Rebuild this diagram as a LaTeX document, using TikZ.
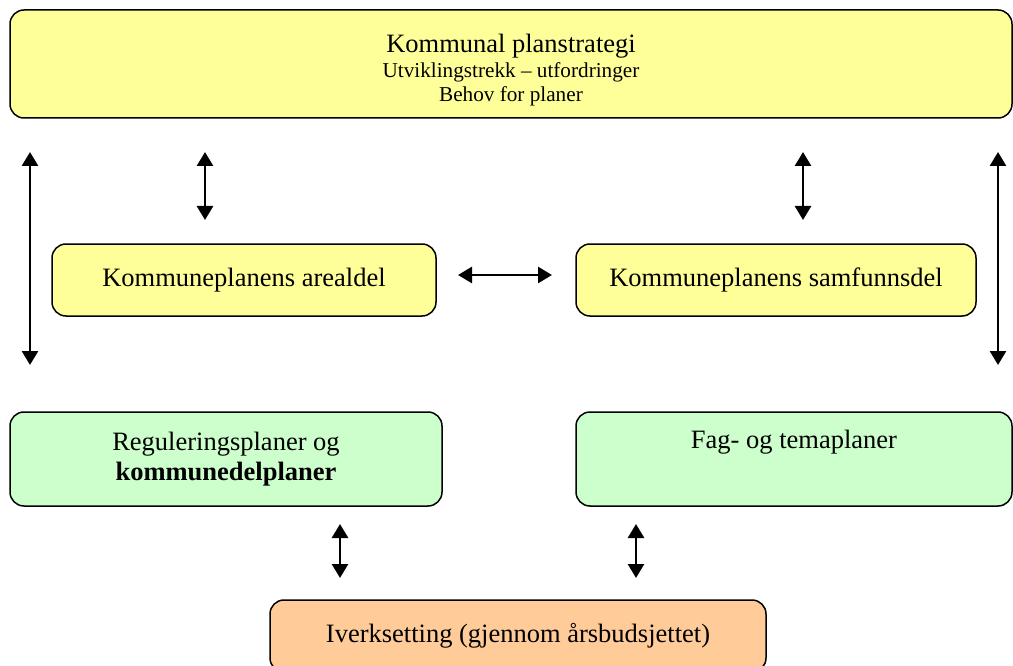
\documentclass[tikz,border=0pt]{standalone}
\usepackage{fontspec}
\setmainfont{Liberation Serif}
\usetikzlibrary{arrows.meta}
\definecolor{planyellow}{HTML}{FFFF99}
\definecolor{plangreen}{HTML}{CCFFCC}
\definecolor{planorange}{HTML}{FFCC99}
\newcommand{\bigtxt}{\fontsize{26.5}{30.5}\selectfont}
\newcommand{\smalltxt}{\fontsize{21.2}{24.4}\selectfont}
\tikzset{
  planbox/.style={draw=black, line width=1.5pt, rounded corners=14pt, inner sep=0pt,
    align=center, font=\bigtxt},
  twoway/.style={line width=2.6pt, {Triangle[width=16pt,length=14pt]}-{Triangle[width=16pt,length=14pt]}}
}

\begin{document}
\begin{tikzpicture}[x=1pt,y=-1pt]
\useasboundingbox (0,0) rectangle (1013,666);
\clip (0,0) rectangle (1013,666);
% planstrategi
\node[planbox, fill=planyellow, minimum width=1002pt, minimum height=108pt,
  label={[align=center, font=\smalltxt, yshift=-6pt]center:{{\bigtxt Kommunal planstrategi}\\[0.5pt]
  Utviklingstrekk -- utfordringer\\ Behov for planer}}]
  (strategi) at (511,64) {};
% kommuneplanen
\node[planbox, fill=planyellow, minimum width=384pt, minimum height=72pt] (areal) at (244,280) {Kommuneplanens arealdel};
\node[planbox, fill=planyellow, minimum width=400pt, minimum height=72pt] (samfunn) at (776,280) {Kommuneplanens samfunnsdel};
% planer
\node[planbox, fill=plangreen, minimum width=432pt, minimum height=94pt] (regulering) at (226,459) {Reguleringsplaner og\\ \textbf{kommunedelplaner}};
\node[planbox, fill=plangreen, minimum width=436pt, minimum height=94pt] (fagplan) at (794,459) {Fag- og temaplaner\\ \strut};
% iverksetting
\node[planbox, fill=planorange, minimum width=496pt, minimum height=72pt] (iverk) at (518,636) {Iverksetting (gjennom årsbudsjettet)};

\foreach \n/\x/\a/\b in {1/30/152/365, 2/205/152/220, 3/803/152/220, 4/998/152/365, 5/340/524/578, 6/636/524/578} {
  \coordinate (top\n) at (\x,\a);
  \coordinate (bot\n) at (\x,\b);
  \draw[twoway] (top\n) -- (bot\n);
}
\coordinate (left7) at (458,275);
\coordinate (right7) at (552,275);
\draw[twoway] (left7) -- (right7);
\end{tikzpicture}
\end{document}
